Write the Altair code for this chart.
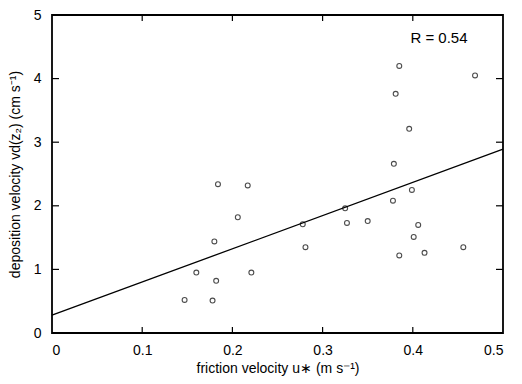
import altair as alt
import pandas as pd

u_star = [0.385, 0.469, 0.381, 0.396, 0.379,
          0.184, 0.217, 0.206, 0.180, 0.160, 0.221, 0.182, 0.147, 0.178,
          0.399, 0.378, 0.325, 0.278, 0.327, 0.350, 0.406, 0.401, 0.281,
          0.385, 0.413, 0.456]
v_d = [4.20, 4.05, 3.76, 3.21, 2.66,
       2.34, 2.32, 1.82, 1.44, 0.95, 0.95, 0.82, 0.52, 0.51,
       2.25, 2.08, 1.96, 1.71, 1.73, 1.76, 1.70, 1.51, 1.35,
       1.22, 1.26, 1.35]
fit_x = [0.0, 0.5]
fit_y = [0.28, 2.89]
x_ticks = [0, 0.1, 0.2, 0.3, 0.4, 0.5]
y_ticks = [0, 1, 2, 3, 4, 5]
x_inner = [0.1, 0.2, 0.3, 0.4]
y_inner = [1, 2, 3, 4]

pts = pd.DataFrame({"u": u_star, "v": v_d})
fit = pd.DataFrame({"u": fit_x, "v": fit_y})
xt = pd.DataFrame({"u": x_inner})
yt = pd.DataFrame({"v": y_inner})

FONT = "Liberation Sans"
xs = alt.Scale(domain=[0, 0.5], nice=False, zero=False)
ys = alt.Scale(domain=[0, 5], nice=False, zero=False)

xaxis = alt.Axis(values=x_ticks, format="~g", ticks=False, domain=False, grid=False,
                 labelFontSize=14, labelPadding=10, labelColor="black", labelFont=FONT,
                 title="friction velocity u\u2217 (m s\u207b\u00b9)", titleFont=FONT,
                 titleFontSize=14, titleFontWeight="normal", titleColor="black", titlePadding=4)
yaxis = alt.Axis(values=y_ticks, format="~g", ticks=False, domain=False, grid=False,
                 labelFontSize=14, labelPadding=11, labelColor="black", labelFont=FONT,
                 title="deposition velocity vd(z\u2082)  (cm s\u207b\u00b9)", titleFont=FONT,
                 titleFontSize=14, titleFontWeight="normal", titleColor="black", titlePadding=11)

points = alt.Chart(pts).mark_point(shape="circle", filled=False, color="black",
                                   size=24, strokeWidth=1.1).encode(
    x=alt.X("u:Q", scale=xs, axis=xaxis),
    y=alt.Y("v:Q", scale=ys, axis=yaxis),
)
line = alt.Chart(fit).mark_line(color="black", strokeWidth=1.3).encode(
    x=alt.X("u:Q", scale=xs), y=alt.Y("v:Q", scale=ys))

H = 318
W = 451
tick_b = alt.Chart(xt).mark_rule(color="black", strokeWidth=1.2).encode(
    x=alt.X("u:Q", scale=xs), y=alt.value(H), y2=alt.value(H - 6))
tick_t = alt.Chart(xt).mark_rule(color="black", strokeWidth=1.2).encode(
    x=alt.X("u:Q", scale=xs), y=alt.value(0), y2=alt.value(6))
tick_l = alt.Chart(yt).mark_rule(color="black", strokeWidth=1.2).encode(
    y=alt.Y("v:Q", scale=ys), x=alt.value(0), x2=alt.value(7))
tick_r = alt.Chart(yt).mark_rule(color="black", strokeWidth=1.2).encode(
    y=alt.Y("v:Q", scale=ys), x=alt.value(W), x2=alt.value(W - 7))

label = alt.Chart(pd.DataFrame({"u": [0.429], "v": [4.64], "t": ["R = 0.54"]})).mark_text(
    font=FONT, fontSize=15, color="black").encode(
    x=alt.X("u:Q", scale=xs), y=alt.Y("v:Q", scale=ys), text="t:N")

chart = alt.layer(line, points, tick_b, tick_t, tick_l, tick_r, label).properties(
    width=W, height=H,
    autosize=alt.AutoSizeParams(type="none"),
    padding={"left": 44, "top": 7, "right": 11, "bottom": 43},
    background="white",
).configure_view(stroke="black", strokeWidth=1.8)

chart.save("out.html", embed_options={"renderer": "svg", "actions": False})
